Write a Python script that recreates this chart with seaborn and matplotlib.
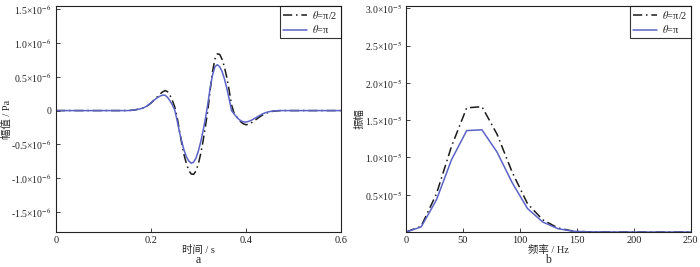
import numpy as np
import pandas as pd
import matplotlib
matplotlib.use('Agg')
import matplotlib.pyplot as plt
import seaborn as sns

# time-domain waveform, amplitude in 1e-6 Pa
t = [0.0,
     0.150, 0.155, 0.160, 0.165, 0.170, 0.175, 0.180, 0.185, 0.190, 0.195,
     0.200, 0.205, 0.210, 0.215, 0.220, 0.225, 0.230, 0.235, 0.240, 0.245,
     0.250, 0.255, 0.260, 0.265, 0.270, 0.275, 0.280, 0.285, 0.290, 0.295,
     0.300, 0.305, 0.310, 0.315, 0.320, 0.325, 0.330, 0.335, 0.340, 0.345,
     0.350, 0.355, 0.360, 0.365, 0.370, 0.375, 0.380, 0.385, 0.390, 0.395,
     0.400, 0.405, 0.410, 0.415, 0.420, 0.425, 0.430, 0.435, 0.440, 0.445,
     0.450, 0.455, 0.460, 0.465, 0.470, 0.475, 0.480,
     0.6]
amp_half_pi = [0.0,
               0.0, 0.002, 0.005, 0.009, 0.015, 0.022, 0.03, 0.043, 0.06, 0.083,
               0.11, 0.145, 0.18, 0.215, 0.25, 0.278, 0.297, 0.28, 0.23, 0.154,
               0.06, -0.085, -0.29, -0.487, -0.66, -0.79, -0.89, -0.94, -0.945, -0.895,
               -0.79, -0.638, -0.45, -0.231, 0.0, 0.31, 0.58, 0.766, 0.84, 0.833,
               0.76, 0.645, 0.49, 0.298, 0.085, -0.033, -0.085, -0.132, -0.17, -0.196,
               -0.209, -0.207, -0.19, -0.165, -0.14, -0.115, -0.09, -0.068, -0.05, -0.033,
               -0.02, -0.013, -0.008, -0.004, -0.002, 0.0, 0.0,
               0.0]
amp_pi = [0.0,
          0.0, 0.002, 0.005, 0.009, 0.015, 0.022, 0.03, 0.043, 0.06, 0.085,
          0.115, 0.145, 0.172, 0.197, 0.217, 0.23, 0.226, 0.197, 0.148, 0.086,
          0.014, -0.139, -0.31, -0.459, -0.59, -0.686, -0.75, -0.78, -0.765, -0.705,
          -0.60, -0.464, -0.30, -0.114, 0.10, 0.34, 0.53, 0.65, 0.68, 0.649,
          0.58, 0.468, 0.33, 0.171, 0.0, -0.047, -0.09, -0.127, -0.153, -0.168,
          -0.17, -0.162, -0.15, -0.13, -0.11, -0.09, -0.07, -0.05, -0.035, -0.024,
          -0.015, -0.009, -0.005, -0.002, 0.0, 0.0, 0.0,
          0.0]

# amplitude spectrum, in 1e-5
freq = [0, 13.3, 26.7, 40.0, 53.3, 66.7, 80.0, 93.3, 106.7, 120.0, 133.3, 146.7,
        160.0, 173.3, 186.7, 200.0, 213.3, 226.7, 240.0, 253.3]
spec_half_pi = [0.0, 0.077, 0.51, 1.15, 1.665, 1.68, 1.31, 0.80, 0.38, 0.165, 0.055, 0.012,
                0.003, 0.001, 0.0, 0.0, 0.0, 0.0, 0.0, 0.0]
spec_pi = [0.0, 0.068, 0.43, 0.97, 1.36, 1.37, 1.07, 0.66, 0.315, 0.135, 0.045, 0.01,
           0.002, 0.001, 0.0, 0.0, 0.0, 0.0, 0.0, 0.0]

labels = [r'$\theta$=π/2', r'$\theta$=π']

sns.set_theme(style='ticks')
plt.rcParams['font.family'] = ['Liberation Serif', 'Noto Sans CJK SC']
plt.rcParams['mathtext.fontset'] = 'stix'
plt.rcParams['axes.unicode_minus'] = False

df_t = pd.DataFrame({
    'x': t * 2,
    'y': np.array(amp_half_pi + amp_pi) * 1e-6,
    's': [labels[0]] * len(t) + [labels[1]] * len(t),
})
df_f = pd.DataFrame({
    'x': freq * 2,
    'y': np.array(spec_half_pi + spec_pi) * 1e-5,
    's': [labels[0]] * len(freq) + [labels[1]] * len(freq),
})

black = '#1a1a1a'
blue = '#5b63c6'
pal = {labels[0]: black, labels[1]: blue}
dashes = {labels[0]: (6, 2.5, 1, 2.5), labels[1]: ''}

fig = plt.figure(figsize=(7, 2.67), dpi=100)
ax1 = fig.add_axes([0.08, 0.131, 0.4067, 0.8465])
ax2 = fig.add_axes([0.58, 0.131, 0.4067, 0.8465])


def sci(v, e):
    if v == 0:
        return '0'
    sign = '-' if v < 0 else ''
    return sign + '%.1f×10$^{-%d}$' % (abs(v), e)


for ax, df in [(ax1, df_t), (ax2, df_f)]:
    sns.lineplot(data=df, x='x', y='y', hue='s', style='s', palette=pal,
                 dashes=dashes, linewidth=1.1, ax=ax)
    for s in ax.spines.values():
        s.set_visible(True)
        s.set_color('#222222')
        s.set_linewidth(0.8)
    ax.tick_params(direction='in', length=3, width=0.6, colors='#222222', pad=3)
    ax.tick_params(axis='x', labelsize=7.5)
    ax.tick_params(axis='y', labelsize=7)
    leg = ax.legend(loc='upper right', fontsize=7.5, frameon=True, fancybox=False,
                    edgecolor='black', borderpad=0.3, labelspacing=0.2,
                    handlelength=2.3, handletextpad=0.5, borderaxespad=0.0)
    leg.get_frame().set_linewidth(0.8)
    ax.xaxis.label.set_va('center')
    ax.yaxis.label.set_va('center')

ax1.set_xlim(0, 0.6)
ax1.set_ylim(-1.8e-6, 1.55e-6)
ax1.set_xticks([0, 0.2, 0.4, 0.6])
ax1.set_xticklabels(['0', '0.2', '0.4', '0.6'])
yt1 = [-1.5, -1.0, -0.5, 0, 0.5, 1.0, 1.5]
ax1.set_yticks([v * 1e-6 for v in yt1])
ax1.set_yticklabels([sci(v, 6) for v in yt1])
ax1.set_xlabel('时间 / s', fontsize=7.5)
ax1.set_ylabel('幅值 / Pa', fontsize=7.5)
ax1.xaxis.set_label_coords(0.5, -0.078)
ax1.yaxis.set_label_coords(-0.172, 0.5)
ax1.text(0.5, -0.124, 'a', transform=ax1.transAxes, ha='center', va='center',
         fontsize=8.5)

ax2.set_xlim(0, 250)
ax2.set_ylim(0, 3.03e-5)
ax2.set_xticks([0, 50, 100, 150, 200, 250])
yt2 = [0.5, 1.0, 1.5, 2.0, 2.5, 3.0]
ax2.set_yticks([v * 1e-5 for v in yt2])
ax2.set_yticklabels([sci(v, 5) for v in yt2])
ax2.set_xlabel('频率 / Hz', fontsize=7.5)
ax2.set_ylabel('振幅', fontsize=7.5)
ax2.xaxis.set_label_coords(0.5, -0.078)
ax2.yaxis.set_label_coords(-0.165, 0.5)
ax2.text(0.5, -0.124, 'b', transform=ax2.transAxes, ha='center', va='center',
         fontsize=8.5)

fig.savefig('out.png', dpi=100)
